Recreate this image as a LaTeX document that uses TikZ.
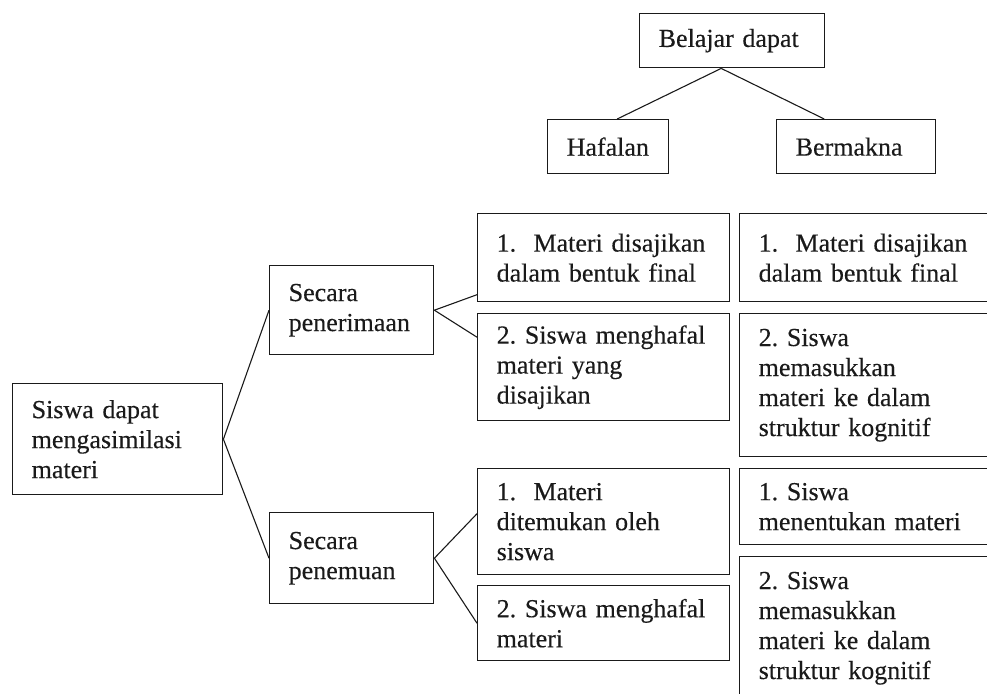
\documentclass[tikz,border=0pt]{standalone}
\usepackage{fontspec}
\setmainfont{Liberation Serif}
\newfontfamily\boxfont{Liberation Serif}[FakeBold=0.3]
\usetikzlibrary{positioning}
\definecolor{ink}{HTML}{1A1A1A}

\begin{document}
\frenchspacing
\begin{tikzpicture}[x=1pt,y=-1pt,
    box/.style={draw=ink,text=ink,line width=1.4pt,anchor=north west,align=left,
      inner xsep=19pt,inner ysep=0pt,font=\fontsize{26}{30}\boxfont},
    link/.style={draw=ink,line width=1.1pt}]
  \useasboundingbox (0,0) rectangle (987,693);
  \clip (0,0) rectangle (987,693);
  % top: Belajar dapat
  \node[box,text width=147pt,minimum height=54pt] (belajar) at (639,13) {Belajar dapat};
  \node[box,text width=83pt,minimum height=54pt] (hafalan) at (547,119) {Hafalan};
  \node[box,text width=121pt,minimum height=54pt] (bermakna) at (776,119) {Bermakna};
  \path[link] ([xshift=-11pt]belajar.south) edge ([xshift=9pt]hafalan.north);
  \path[link] ([xshift=-11pt]belajar.south) edge ([xshift=-32pt]bermakna.north);
  % left tree
  \node[box,text width=172pt,minimum height=111pt] (siswa) at (12,383) {Siswa dapat\\mengasimilasi\\materi};
  \node[box,text width=126pt,minimum height=89pt] (terima) at (269,265) {Secara\\penerimaan};
  \node[box,text width=126pt,minimum height=91pt] (temu) at (269,512) {Secara\\penemuan};
  \path[link] (siswa.east) edge (terima.west);
  \path[link] (siswa.east) edge (temu.west);
  % Hafalan column
  \node[box,text width=214pt,minimum height=88pt] (a1) at (477,213) {1.\ \ Materi disajikan\\dalam bentuk final};
  \node[box,text width=214pt,minimum height=107pt] (a2) at (477,313) {2. Siswa menghafal\\materi yang\\disajikan};
  \node[box,text width=214pt,minimum height=106pt] (c1) at (477,468) {1.\ \ Materi\\ditemukan oleh\\siswa};
  \node[box,text width=214pt,minimum height=75pt] (c2) at (477,585) {2. Siswa menghafal\\materi};
  \path[link] (terima.east) edge ([yshift=-37pt]a1.west);
  \path[link] (terima.east) edge ([yshift=30pt]a2.west);
  \path[link] (temu.east) edge ([yshift=8pt]c1.west);
  \path[link] (temu.east) edge (c2.west);
  % Bermakna column
  \node[box,text width=214pt,minimum height=88pt] (b1) at (739,213) {1.\ \ Materi disajikan\\dalam bentuk final};
  \node[box,text width=214pt,minimum height=143pt] (b2) at (739,313) {2. Siswa\\memasukkan\\materi ke dalam\\struktur kognitif};
  \node[box,text width=214pt,minimum height=76pt] (d1) at (739,468) {1. Siswa\\menentukan materi};
  \node[box,text width=214pt,minimum height=143pt] (d2) at (739,556) {2. Siswa\\memasukkan\\materi ke dalam\\struktur kognitif};
\end{tikzpicture}
\end{document}
